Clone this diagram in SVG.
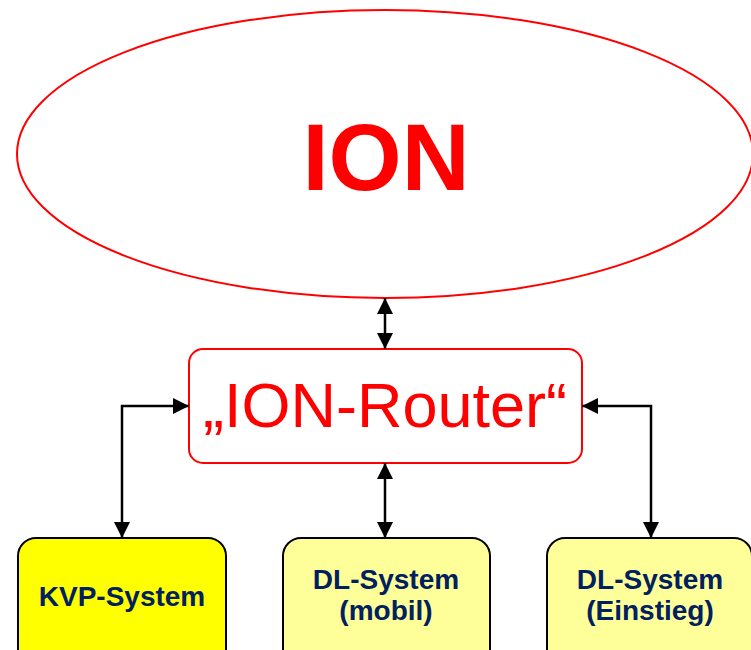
<svg xmlns="http://www.w3.org/2000/svg" width="751" height="650" viewBox="0 0 751 650">
<style>
.conn{stroke:#000;stroke-width:2.5;fill:none;marker-start:url(#ah);marker-end:url(#ah)}
.box{stroke:#000;stroke-width:2}
.lbl{font-family:"Liberation Sans",Arial,sans-serif;font-weight:bold;font-size:28px;fill:#002060;text-anchor:middle}
</style>
<defs>
<marker id="ah" viewBox="0 0 10 10" refX="10" refY="5" markerWidth="6.5" markerHeight="6.5" orient="auto-start-reverse" markerUnits="strokeWidth">
<path d="M0,0 L10,5 L0,10 z" fill="#000"/>
</marker>
</defs>
<rect width="751" height="650" fill="#fff"/>
<g id="ion">
<ellipse cx="385" cy="154" rx="368" ry="144" fill="#fff" stroke="#f00" stroke-width="2"/>
<text x="386" y="190" font-family="Liberation Sans,Arial,sans-serif" font-weight="bold" font-size="94" fill="#f00" text-anchor="middle">ION</text>
</g>
<g id="router">
<rect x="189" y="349" width="393" height="114" rx="14" fill="#fff" stroke="#f00" stroke-width="2"/>
<text x="385" y="427" font-family="Liberation Sans,Arial,sans-serif" font-size="63" fill="#f00" text-anchor="middle">„ION-Router“</text>
</g>
<g id="kvp">
<rect class="box" x="18" y="538" width="208" height="130" rx="18" fill="#ffff00"/>
<text class="lbl" x="122" y="606">KVP-System</text>
</g>
<g id="dl-mobil">
<rect class="box" x="283" y="538" width="207" height="130" rx="18" fill="#ffff99"/>
<text class="lbl" x="386" y="589">DL-System</text>
<text class="lbl" x="386" y="620">(mobil)</text>
</g>
<g id="dl-einstieg">
<rect class="box" x="547" y="538" width="205" height="130" rx="18" fill="#ffff99"/>
<text class="lbl" x="650" y="589">DL-System</text>
<text class="lbl" x="650" y="620">(Einstieg)</text>
</g>
<g id="connectors">
<path class="conn" d="M385,298 L385,349"/>
<path class="conn" d="M189,406 L122,406 L122,538"/>
<path class="conn" d="M582,406 L651,406 L651,538"/>
<path class="conn" d="M385,463 L385,538"/>
</g>
</svg>
